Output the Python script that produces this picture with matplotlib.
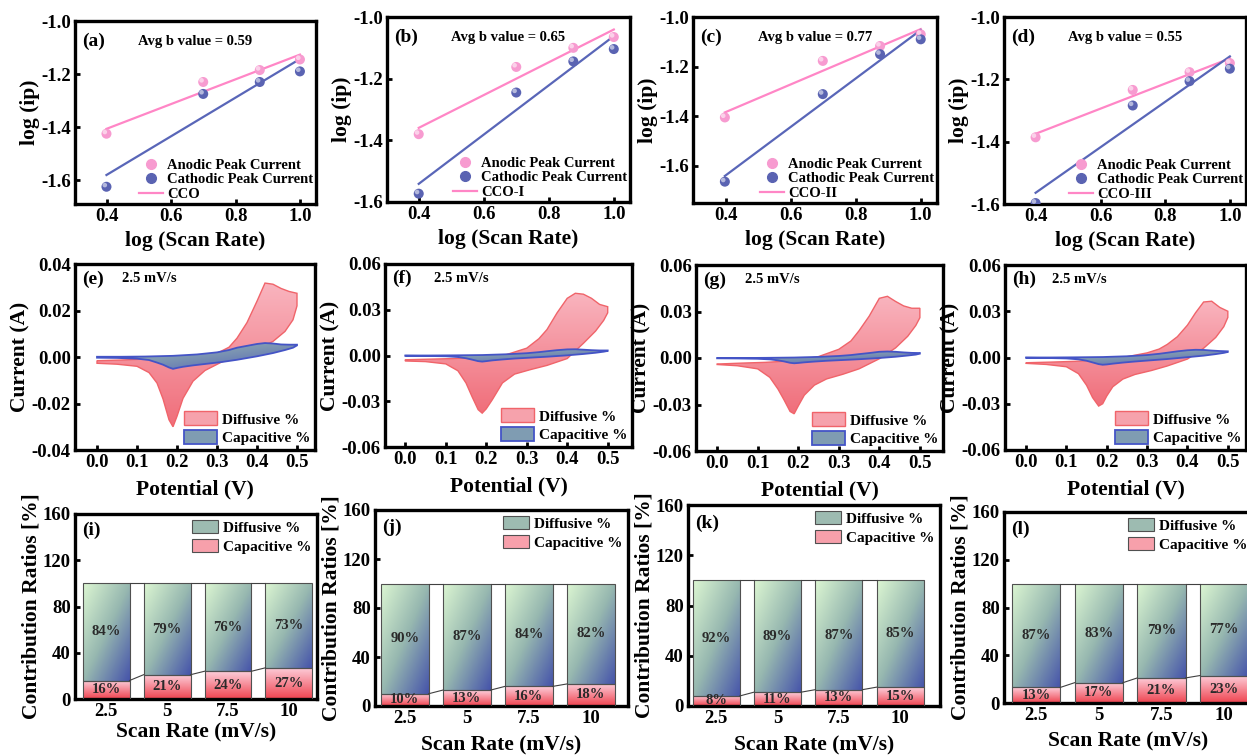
import numpy as np
import matplotlib
matplotlib.use('Agg')
import matplotlib.pyplot as plt
from matplotlib.patches import Patch, Polygon
from matplotlib.lines import Line2D
from matplotlib.colors import LinearSegmentedColormap
from matplotlib.transforms import offset_copy

plt.rcParams['font.family'] = ['Liberation Serif', 'DejaVu Serif']
plt.rcParams['font.weight'] = 'bold'
plt.rcParams['axes.labelweight'] = 'bold'
plt.rcParams['axes.unicode_minus'] = False

W, H = 1247, 755

# ---------------- data ----------------
scan_rates = [2.5, 5, 7.5, 10]
sample_names = ['CCO', 'CCO-I', 'CCO-II', 'CCO-III']
b_values = ['0.59', '0.65', '0.77', '0.55']

# log(ip) of anodic / cathodic peaks, one list per sample
anodic_logip = [
    [-1.425, -1.230, -1.185, -1.145],
    [-1.380, -1.162, -1.100, -1.065],
    [-1.405, -1.177, -1.117, -1.070],
    [-1.386, -1.234, -1.177, -1.148],
]
cathodic_logip = [
    [-1.625, -1.275, -1.230, -1.190],
    [-1.573, -1.245, -1.144, -1.104],
    [-1.664, -1.311, -1.150, -1.090],
    [-1.597, -1.284, -1.206, -1.166],
]

# CV at 2.5 mV/s: forward (anodic) and reverse (cathodic) potentials
cv_fwd_v = [0.00, 0.06, 0.12, 0.19, 0.25, 0.30, 0.33, 0.35, 0.375, 0.40,
            0.42, 0.44, 0.46, 0.48, 0.50]
cv_rev_v = [0.50, 0.49, 0.47, 0.44, 0.40, 0.35, 0.31, 0.27, 0.24, 0.215,
            0.20, 0.19, 0.18, 0.165, 0.15, 0.13, 0.10, 0.05, 0.00]

diff_fwd_i = [
    [-0.0016, -0.0013, -0.0009, -0.0004, 0.0001, 0.0016, 0.0042, 0.0081, 0.0148, 0.0240,
     0.0318, 0.0313, 0.0295, 0.0282, 0.0274],
    [-0.0028, -0.0024, -0.0020, -0.0010, 0.0006, 0.0048, 0.0110, 0.0170, 0.0280, 0.0375,
     0.0408, 0.0402, 0.0375, 0.0335, 0.0320],
    [-0.0039, -0.0033, -0.0028, -0.0017, 0.0009, 0.0056, 0.0110, 0.0176, 0.0270, 0.0385,
     0.0398, 0.0365, 0.0336, 0.0321, 0.0321],
    [-0.0034, -0.0030, -0.0025, -0.0015, 0.0005, 0.0030, 0.0055, 0.0085, 0.0135, 0.0210,
     0.0290, 0.0360, 0.0365, 0.0325, 0.0300],
]
diff_rev_i = [
    [0.0220, 0.0160, 0.0110, 0.0067, 0.0035, 0.0005, -0.0023, -0.0058, -0.0104, -0.0178,
     -0.0255, -0.0300, -0.0270, -0.0180, -0.0112, -0.0067, -0.0040, -0.0031, -0.0027],
    [0.0280, 0.0230, 0.0160, 0.0080, -0.0020, -0.0065, -0.0092, -0.0122, -0.0180, -0.0290,
     -0.0350, -0.0378, -0.0355, -0.0270, -0.0180, -0.0100, -0.0055, -0.0040, -0.0036],
    [0.0260, 0.0210, 0.0140, 0.0065, -0.0005, -0.0070, -0.0105, -0.0135, -0.0175, -0.0240,
     -0.0310, -0.0360, -0.0345, -0.0270, -0.0200, -0.0125, -0.0070, -0.0050, -0.0042],
    [0.0260, 0.0200, 0.0130, 0.0060, -0.0010, -0.0055, -0.0085, -0.0110, -0.0140, -0.0190,
     -0.0250, -0.0300, -0.0315, -0.0260, -0.0180, -0.0105, -0.0060, -0.0045, -0.0038],
]
cap_fwd_i = [
    [0.0001, 0.0001, 0.0002, 0.0005, 0.0011, 0.0020, 0.0030, 0.0040, 0.0048, 0.0056,
     0.0060, 0.0058, 0.0054, 0.0053, 0.0053],
    [0.0000, 0.0000, 0.0001, 0.0003, 0.0008, 0.0015, 0.0022, 0.0028, 0.0035, 0.0040,
     0.0041, 0.0038, 0.0035, 0.0033, 0.0033],
    [0.0000, 0.0000, 0.0001, 0.0003, 0.0007, 0.0013, 0.0019, 0.0025, 0.0032, 0.0040,
     0.0042, 0.0040, 0.0036, 0.0033, 0.0032],
    [0.0000, 0.0000, 0.0001, 0.0003, 0.0008, 0.0016, 0.0024, 0.0031, 0.0040, 0.0047,
     0.0050, 0.0049, 0.0045, 0.0042, 0.0040],
]
cap_rev_i = [
    [0.0050, 0.0040, 0.0030, 0.0017, 0.0003, -0.0012, -0.0022, -0.0030, -0.0036, -0.0042,
     -0.0047, -0.0051, -0.0045, -0.0033, -0.0024, -0.0013, -0.0007, -0.0004, -0.0003],
    [0.0030, 0.0025, 0.0018, 0.0010, 0.0001, -0.0008, -0.0014, -0.0020, -0.0026, -0.0032,
     -0.0037, -0.0040, -0.0037, -0.0027, -0.0018, -0.0010, -0.0005, -0.0003, -0.0002],
    [0.0028, 0.0022, 0.0016, 0.0008, 0.0000, -0.0008, -0.0013, -0.0018, -0.0023, -0.0028,
     -0.0032, -0.0034, -0.0031, -0.0022, -0.0015, -0.0009, -0.0005, -0.0003, -0.0002],
    [0.0036, 0.0030, 0.0022, 0.0012, 0.0002, -0.0010, -0.0018, -0.0026, -0.0033, -0.0040,
     -0.0045, -0.0047, -0.0043, -0.0032, -0.0021, -0.0012, -0.0006, -0.0003, -0.0002],
]

# contribution ratios (%) per scan rate
scan_rate_labels = ['2.5', '5', '7.5', '10']
capacitive_pct = [
    [16, 21, 24, 27],
    [10, 13, 16, 18],
    [8, 11, 13, 15],
    [13, 17, 21, 23],
]
diffusive_pct = [
    [84, 79, 76, 73],
    [90, 87, 84, 82],
    [92, 89, 87, 85],
    [87, 83, 79, 77],
]

# ---------------- styling ----------------
PINK_PT, PINK_LN = '#f79bd0', '#ff86c6'
BLUE_PT, BLUE_LN = '#5a63b2', '#5966b8'
cv_diff_cmap = LinearSegmentedColormap.from_list('cvdiff', ['#f06e7a', '#f9b4be'])
cv_cap_cmap = LinearSegmentedColormap.from_list('cvcap', ['#5262b6', '#a6c8ae'])
bar_diff_cmap = LinearSegmentedColormap.from_list('bardiff', ['#4654aa', '#97b8b0', '#dcf6d2'])
bar_cap_cmap = LinearSegmentedColormap.from_list('barcap', ['#ef4450', '#fdcfdb'])

fig = plt.figure(figsize=(W / 100, H / 100), dpi=100)


def px_axes(left, right, top, bottom):
    return fig.add_axes([left / W, 1 - bottom / H, (right - left) / W, (bottom - top) / H])


def style_axes(ax):
    for sp in ax.spines.values():
        sp.set_linewidth(2.4)
    ax.tick_params(direction='in', length=3.5, width=2, labelsize=13.5, pad=3)


def gradient_in(ax, patch, extent, cmap, diagonal=False, z=1):
    u = np.linspace(0, 1, 80)
    uu, vv = np.meshgrid(u, u)
    arr = 0.5 * ((1 - uu) + vv) if diagonal else vv
    im = ax.imshow(arr, cmap=cmap, extent=extent, origin='lower', aspect='auto',
                   interpolation='bilinear', zorder=z)
    im.set_clip_path(patch)


# ---------------- row 1: log(ip) vs log(scan rate) ----------------
row1_boxes = [(75, 316, 21, 204), (387, 630, 17, 202), (693, 937, 17, 203), (1004, 1246, 17, 204)]
row1_ylims = [(-1.69, -1.0), (-1.6, -1.0), (-1.75, -1.0), (-1.6, -1.0)]
log_rate = np.log10(scan_rates)

for k, tag in enumerate('abcd'):
    ax = px_axes(*row1_boxes[k])
    style_axes(ax)
    hl = offset_copy(ax.transData, fig=fig, x=-1.2, y=1.2, units='points')
    for vals, pt, ln in [(anodic_logip[k], PINK_PT, PINK_LN), (cathodic_logip[k], BLUE_PT, BLUE_LN)]:
        ax.scatter(log_rate, vals, s=52, color=pt, zorder=3, edgecolors='none')
        ax.scatter(log_rate, vals, s=11, color='white', alpha=0.55, zorder=4,
                   edgecolors='none', transform=hl)
        fit = np.polyfit(log_rate, vals, 1)
        xs = np.array([log_rate[0], log_rate[-1]])
        ax.plot(xs, np.polyval(fit, xs), color=ln, lw=1.6, zorder=2)
    ax.set_xlim(0.30, 1.05)
    ax.set_ylim(*row1_ylims[k])
    ax.set_xticks([0.4, 0.6, 0.8, 1.0])
    ax.set_yticks([-1.0, -1.2, -1.4, -1.6])
    ax.xaxis.set_major_formatter(matplotlib.ticker.FormatStrFormatter('%.1f'))
    ax.yaxis.set_major_formatter(matplotlib.ticker.FormatStrFormatter('%.1f'))
    ax.set_xlabel('log (Scan Rate)', fontsize=15.5, labelpad=4)
    ax.set_ylabel('log (ip)', fontsize=15.5, labelpad=1)
    ax.text(0.03, 0.89, f'({tag})', transform=ax.transAxes, fontsize=14, va='center')
    ax.text(0.5, 0.89, f'Avg b value = {b_values[k]}', transform=ax.transAxes,
            fontsize=10.5, ha='center', va='center')
    handles = [
        Line2D([], [], marker='o', ls='none', color=PINK_PT, markersize=7),
        Line2D([], [], marker='o', ls='none', color=BLUE_PT, markersize=7),
        Line2D([], [], color=PINK_LN, lw=1.6),
    ]
    ax.legend(handles, ['Anodic Peak Current', 'Cathodic Peak Current', sample_names[k]],
              loc='lower right', frameon=False, fontsize=10.5, handlelength=1.6,
              handletextpad=0.3, labelspacing=0.1, borderaxespad=0.1, borderpad=0.1)

# ---------------- row 2: CV separation ----------------
row2_boxes = [(75, 315, 264, 450), (385, 632, 264, 447), (696, 943, 265, 451), (1005, 1246, 265, 450)]
row2_lim = [0.04, 0.06, 0.06, 0.06]
row2_xlims = [(-0.055, 0.545), (-0.05, 0.56), (-0.052, 0.557), (-0.052, 0.545)]

for k, tag in enumerate('efgh'):
    ax = px_axes(*row2_boxes[k])
    style_axes(ax)
    v_loop = np.r_[cv_fwd_v, cv_rev_v]
    diff_loop = np.column_stack([v_loop, np.r_[diff_fwd_i[k], diff_rev_i[k]]])
    cap_loop = np.column_stack([v_loop, np.r_[cap_fwd_i[k], cap_rev_i[k]]])

    diff_poly = Polygon(diff_loop, closed=True, facecolor='none', edgecolor='#f0646a',
                        lw=1.0, zorder=2)
    ax.add_patch(diff_poly)
    gradient_in(ax, diff_poly, [0, 0.5, diff_loop[:, 1].min(), diff_loop[:, 1].max()],
                cv_diff_cmap, z=1)
    cap_poly = Polygon(cap_loop, closed=True, facecolor='none', edgecolor='#4454c6',
                       lw=1.3, zorder=4)
    ax.add_patch(cap_poly)
    gradient_in(ax, cap_poly, [0, 0.5, cap_loop[:, 1].min(), cap_loop[:, 1].max()],
                cv_cap_cmap, diagonal=True, z=3)

    lim = row2_lim[k]
    ax.set_xlim(*row2_xlims[k])
    ax.set_ylim(-lim, lim)
    ax.set_xticks([0.0, 0.1, 0.2, 0.3, 0.4, 0.5])
    ax.set_yticks(np.linspace(-lim, lim, 5))
    ax.xaxis.set_major_formatter(matplotlib.ticker.FormatStrFormatter('%.1f'))
    ax.yaxis.set_major_formatter(matplotlib.ticker.FormatStrFormatter('%.2f'))
    ax.set_xlabel('Potential (V)', fontsize=15.5, labelpad=6)
    ax.set_ylabel('Current (A)', fontsize=15.5, labelpad=1)
    ax.text(0.03, 0.92, f'({tag})', transform=ax.transAxes, fontsize=14, va='center')
    ax.text(0.31, 0.92, '2.5 mV/s', transform=ax.transAxes, fontsize=10.5,
            ha='center', va='center')
    handles = [Patch(facecolor='#f6a2ac', edgecolor='#f0646a', lw=1.0),
               Patch(facecolor='#7f9cb2', edgecolor='#4454c6', lw=1.3)]
    ax.legend(handles, ['Diffusive %', 'Capacitive %'], loc='lower right', frameon=False,
              fontsize=11, handlelength=2.2, handleheight=1.0, handletextpad=0.3,
              labelspacing=0.25, borderaxespad=0.2, borderpad=0.1)

# ---------------- row 3: contribution bars ----------------
row3_boxes = [(75, 317, 514, 699), (375, 628, 510, 706), (688, 940, 505, 706), (1004, 1253, 512, 703)]
row3_xlims = [(-0.51, 3.46), (-0.48, 3.6), (-0.46, 3.65), (-0.51, 3.46)]
row3_xlabel_pad = [2, 6, 6, 5]
bar_w = 0.77

for k, tag in enumerate('ijkl'):
    ax = px_axes(*row3_boxes[k])
    style_axes(ax)
    pos = np.arange(len(scan_rate_labels))
    cap = np.array(capacitive_pct[k])
    dif = np.array(diffusive_pct[k])
    cap_bars = ax.bar(pos, cap, bar_w, facecolor='none', edgecolor='#505050', lw=0.8, zorder=3)
    dif_bars = ax.bar(pos, dif, bar_w, bottom=cap, facecolor='none', edgecolor='#505050',
                      lw=0.8, zorder=3)
    for rect in cap_bars:
        x0, y0 = rect.get_x(), rect.get_y()
        gradient_in(ax, rect, [x0, x0 + rect.get_width(), y0, y0 + rect.get_height()],
                    bar_cap_cmap, z=2)
    for rect in dif_bars:
        x0, y0 = rect.get_x(), rect.get_y()
        gradient_in(ax, rect, [x0, x0 + rect.get_width(), y0, y0 + rect.get_height()],
                    bar_diff_cmap, diagonal=True, z=2)
    # connector lines between neighbouring stacks
    tops = cap + dif
    for j in range(len(pos) - 1):
        xa, xb = pos[j] + bar_w / 2, pos[j + 1] - bar_w / 2
        ax.plot([xa, xb], [cap[j], cap[j + 1]], color='#404040', lw=0.8, zorder=3)
        ax.plot([xa, xb], [tops[j], tops[j + 1]], color='#404040', lw=0.8, zorder=3)
    for p, c, d in zip(pos, cap, dif):
        ax.text(p, c / 2, f'{c}%', ha='center', va='center', fontsize=10.5,
                color='#2a2a2a', zorder=5)
        ax.text(p, c + d / 2, f'{d}%', ha='center', va='center', fontsize=10.5,
                color='#2a2a2a', zorder=5)
    ax.set_xlim(*row3_xlims[k])
    ax.set_ylim(0, 160)
    ax.set_xticks(pos)
    ax.set_xticklabels(scan_rate_labels)
    ax.set_yticks([0, 40, 80, 120, 160])
    ax.set_xlabel('Scan Rate (mV/s)', fontsize=15.5, labelpad=row3_xlabel_pad[k])
    ax.set_ylabel('Contribution Ratios [%]', fontsize=15.5, labelpad=1)
    ax.text(0.03, 0.91, f'({tag})', transform=ax.transAxes, fontsize=14, va='center')
    handles = [Patch(facecolor='#9dbbb1', edgecolor='#505050', lw=0.8),
               Patch(facecolor='#f7a0ab', edgecolor='#505050', lw=0.8)]
    ax.legend(handles, ['Diffusive %', 'Capacitive %'], loc='upper right', frameon=False,
              fontsize=11, handlelength=1.7, handleheight=0.9, handletextpad=0.3,
              labelspacing=0.3, borderaxespad=0.3, borderpad=0.1)

fig.savefig('out.png', dpi=100)
